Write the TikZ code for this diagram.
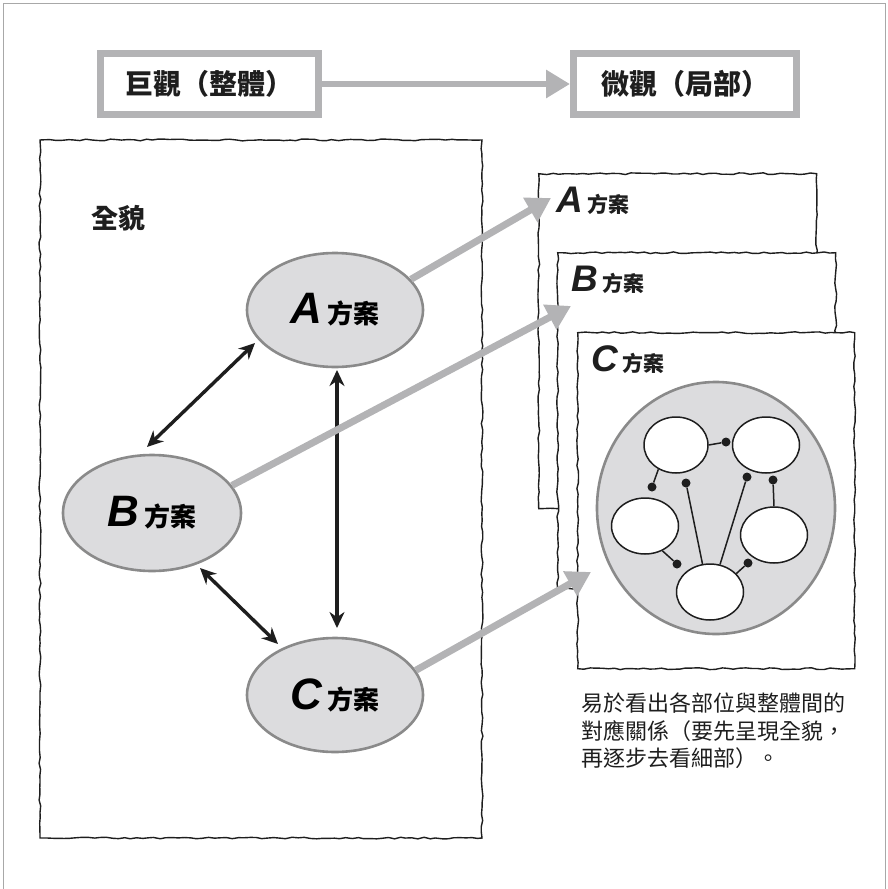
\documentclass[tikz,border=0pt]{standalone}
\usepackage{fontspec}
\setmainfont{Liberation Sans}
\newfontfamily\cjk{Noto Sans CJK TC}
\usetikzlibrary{arrows.meta,shapes.geometric,decorations.pathmorphing}
\definecolor{framegrey}{HTML}{A8A8A8}
\definecolor{boxgrey}{HTML}{B3B3B5}
\definecolor{ellfill}{HTML}{DCDCDE}
\definecolor{elldraw}{HTML}{8A8A8A}
\definecolor{inkblack}{HTML}{1E1E1E}
\tikzset{
  titlebox/.style={draw=boxgrey, line width=7pt, fill=white, inner sep=0pt,
    font=\cjk\bfseries\fontsize{28}{30}\selectfont, text=inkblack},
  wobbly/.style={draw=inkblack, line width=1.4pt, decorate,
    decoration={random steps, segment length=6pt, amplitude=0.9pt}},
  pagebox/.style={wobbly, fill=white, anchor=north west, inner sep=0pt},
  bigell/.style={ellipse, draw=elldraw, fill=ellfill, line width=2.6pt, inner sep=0pt},
  smallell/.style={ellipse, draw=inkblack, fill=white, line width=1.5pt, inner sep=0pt,
    minimum width=67pt, minimum height=56pt},
  dotnode/.style={circle, fill=inkblack, inner sep=0pt, minimum size=9pt},
  greyarrow/.style={draw=boxgrey, line width=7pt, -{Triangle[length=24pt,width=27pt]}},
  blackarrow/.style={draw=inkblack, line width=3.4pt, {Stealth[length=16pt,width=15pt]}-{Stealth[length=16pt,width=15pt]}},
  thinline/.style={draw=inkblack, line width=1.5pt},
  plaintext/.style={font=\cjk\fontsize{22}{27.5}\selectfont, text=inkblack, anchor=base west, inner sep=0pt}
}
\newcommand{\biglbl}[1]{{\fontsize{44}{48}\selectfont\bfseries\itshape #1}\hspace{5pt}{\cjk\bfseries\fontsize{26}{30}\selectfont 方案}}
\newcommand{\pagelbl}[1]{{\fontsize{37}{40}\selectfont\bfseries\itshape #1}\hspace{5pt}{\cjk\bfseries\fontsize{21}{24}\selectfont 方案}}
\begin{document}
\begin{tikzpicture}[x=1pt,y=-1pt]
\pgfmathsetseed{11}
\useasboundingbox (0,0) rectangle (887,889);
% outer thin border
\draw[framegrey, line width=1.5pt] (3.5,889) -- (3.5,3.5) -- (885.5,3.5) -- (885.5,889);

% title boxes
\node[titlebox, minimum width=218pt, minimum height=61pt] (macro) at (209.5,84) {巨觀（整體）};
\node[titlebox, minimum width=223pt, minimum height=61pt] (micro) at (685,84) {微觀（局部）};
\draw[draw=boxgrey, line width=6pt, -{Triangle[length=24pt,width=27pt]}] (macro.east) -- (micro.west);

% big left frame
\node[wobbly, minimum width=442pt, minimum height=698pt, inner sep=0pt] (whole) at (261,489) {};
\node[font=\cjk\bfseries\fontsize{27}{30}\selectfont, text=inkblack, inner sep=0pt] (overall) at (118,218) {全貌};

% pages on the right
\node[pagebox, minimum width=278pt, minimum height=335pt] (pageA) at (538,173) {};
\node[pagebox, minimum width=278pt, minimum height=336pt] (pageB) at (557,252) {};
\node[pagebox, minimum width=277pt, minimum height=336pt] (pageC) at (577,332) {};
\node[anchor=base west, inner sep=0pt, text=inkblack] (labA) at (556,212) {\pagelbl{A}};
\node[anchor=base west, inner sep=0pt, text=inkblack] (labB) at (571,291) {\pagelbl{B}};
\node[anchor=base west, inner sep=0pt, text=inkblack] (labC) at (591,371) {\pagelbl{C}};

% big ellipses
\node[bigell, minimum width=176pt, minimum height=114pt] (ea) at (335,310) {\biglbl{A}};
\node[bigell, minimum width=178pt, minimum height=116pt] (eb) at (152,513) {\biglbl{B}};
\node[bigell, minimum width=176pt, minimum height=114pt] (ec) at (335,695) {\biglbl{C}};

% black double arrows
\coordinate (ab1) at (255,343);
\coordinate (ab2) at (147,447);
\coordinate (ac1) at (337,370);
\coordinate (ac2) at (337,628);
\coordinate (bc1) at (200,568);
\coordinate (bc2) at (278,644);
\draw[blackarrow] (ab2) -- (ab1);
\draw[blackarrow] (ac1) -- (ac2);
\draw[blackarrow] (bc1) -- (bc2);

% grey arrows to pages
\coordinate (tipA) at (551,198);
\coordinate (tipB) at (571,306);
\coordinate (tipC) at (591,572);
\draw[greyarrow] (ea.22) -- (tipA);
\draw[greyarrow] (eb.19) -- (tipB);
\draw[greyarrow] (ec.17) -- (tipC);

% detail diagram in page C
\node[bigell, minimum width=238pt, minimum height=252pt] (detail) at (716,508) {};
\node[smallell, minimum width=64pt] (s1) at (676,445) {};
\node[smallell] (s2) at (766,445) {};
\node[smallell] (s3) at (645,526) {};
\node[smallell] (s4) at (774,535) {};
\node[smallell] (s5) at (710,592) {};
\node[dotnode] (d1) at (726,442) {};
\node[dotnode] (d2) at (652,487) {};
\node[dotnode] (d3) at (686,483) {};
\node[dotnode] (d4) at (747,477) {};
\node[dotnode] (d5) at (773,480) {};
\node[dotnode] (d6) at (677,564) {};
\node[dotnode] (d7) at (748,563) {};
\draw[thinline] (s1.east) -- (d1);
\draw[thinline] (s1.234) -- (d2);
\draw[thinline] (d3) -- (s5.105);
\draw[thinline] (d4) -- (s5.70);
\draw[thinline] (d5) -- (s4.north);
\draw[thinline] (s3.305) -- (d6);
\draw[thinline] (s5.35) -- (d7);

% caption
\node[plaintext] (cap1) at (581,711) {易於看出各部位與整體間的};
\node[plaintext] (cap2) at (581,739) {對應關係（要先呈現全貌，};
\node[plaintext] (cap3) at (581,766) {再逐步去看細部）。};
\end{tikzpicture}
\end{document}
